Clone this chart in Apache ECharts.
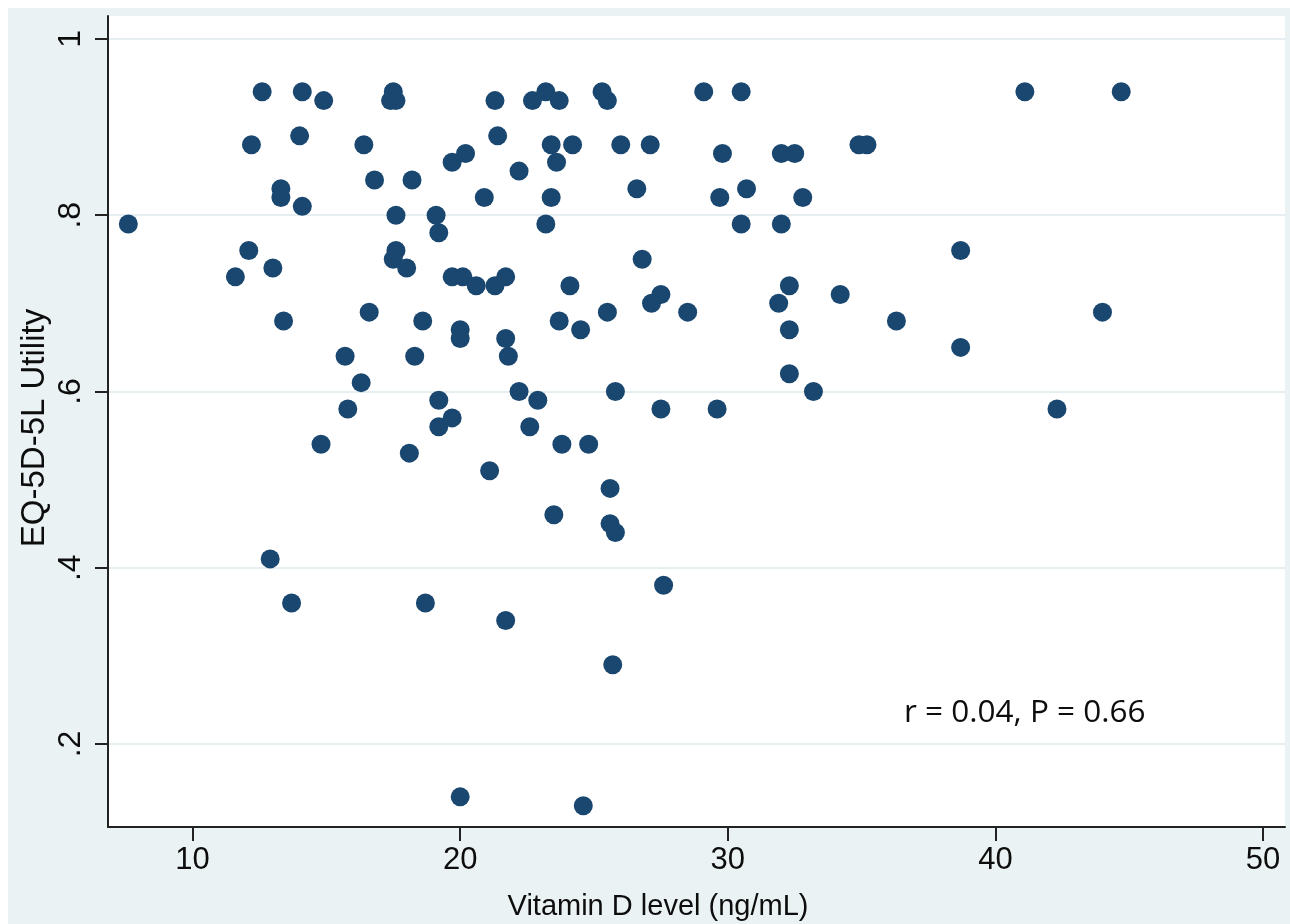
<!DOCTYPE html>
<html>
<head>
<meta charset="utf-8">
<script src="https://cdn.jsdelivr.net/npm/echarts@6/dist/echarts.min.js"></script>
<style>
html,body{margin:0;padding:0;background:#ffffff;}
#bg{position:absolute;left:8px;top:8px;width:1282px;height:916px;background:#eaf2f3;}
#c{position:absolute;left:0;top:0;width:1290px;height:924px;}
</style>
</head>
<body>
<div id="bg"></div>
<div id="c"></div>
<script>
// Vitamin D level (ng/mL) for each participant
const vitaminD = [
  7.6,11.6,12.1,12.2,12.6,12.9,13.0,13.3,13.3,13.4,
  13.7,14.0,14.1,14.1,14.8,14.9,15.7,15.8,16.3,16.4,
  16.6,16.8,17.5,17.4,17.6,17.6,17.6,17.5,18.0,18.1,
  18.2,18.3,18.6,18.7,19.1,19.2,19.2,19.2,19.7,19.7,
  19.7,20.0,20.0,20.0,20.1,20.2,20.6,20.9,21.1,21.3,
  21.3,21.4,21.7,21.7,21.8,21.7,22.2,22.2,22.6,22.7,
  22.9,23.2,23.2,23.4,23.4,23.5,23.6,23.7,23.7,23.8,
  24.1,24.2,24.5,24.6,24.8,25.3,25.5,25.5,25.6,25.6,
  25.8,25.7,25.8,26.0,26.6,26.8,27.1,27.15,27.5,27.5,
  27.6,28.5,29.1,29.6,29.7,29.8,30.5,30.5,30.7,31.9,
  32.0,32.0,32.3,32.3,32.3,32.5,32.8,33.2,34.2,34.9,
  35.2,36.3,38.7,38.7,41.1,42.3,44.0,44.7
];
// EQ-5D-5L utility for each participant (same order)
const utility = [
  0.79,0.73,0.76,0.88,0.94,0.41,0.74,0.83,0.82,0.68,
  0.36,0.89,0.94,0.81,0.54,0.93,0.64,0.58,0.61,0.88,
  0.69,0.84,0.94,0.93,0.93,0.80,0.76,0.75,0.74,0.53,
  0.84,0.64,0.68,0.36,0.80,0.78,0.59,0.56,0.86,0.73,
  0.57,0.67,0.66,0.14,0.73,0.87,0.72,0.82,0.51,0.93,
  0.72,0.89,0.73,0.66,0.64,0.34,0.85,0.60,0.56,0.93,
  0.59,0.94,0.79,0.88,0.82,0.46,0.86,0.93,0.68,0.54,
  0.72,0.88,0.67,0.13,0.54,0.94,0.93,0.69,0.49,0.45,
  0.44,0.29,0.60,0.88,0.83,0.75,0.88,0.70,0.71,0.58,
  0.38,0.69,0.94,0.58,0.82,0.87,0.94,0.79,0.83,0.70,
  0.87,0.79,0.72,0.67,0.62,0.87,0.82,0.60,0.71,0.88,
  0.88,0.68,0.76,0.65,0.94,0.58,0.69,0.94
];
const xTicks = [10, 20, 30, 40, 50];
const xTickLabels = ['10', '20', '30', '40', '50'];
const yTicks = [0.2, 0.4, 0.6, 0.8, 1];
const yTickLabels = ['.2', '.4', '.6', '.8', '1'];
const xTitle = 'Vitamin D level (ng/mL)';
const yTitle = 'EQ-5D-5L Utility';
const annotation = 'r = 0.04, P = 0.66';

const points = vitaminD.map((v, i) => [v, utility[i]]);
function lookup(ticks, labels, v) {
  const i = ticks.findIndex(t => Math.abs(t - v) < 1e-9);
  return i >= 0 ? labels[i] : '';
}

const chart = echarts.init(document.getElementById('c'), null, {renderer: 'canvas'});
chart.setOption({
  backgroundColor: 'transparent',
  animation: false,
  grid: {
    show: true, backgroundColor: '#ffffff', borderWidth: 0,
    left: 108, top: 16, right: 5, bottom: 97
  },
  xAxis: {
    type: 'value', min: 6.84, max: 50.82,
    axisLine: {show: true, onZero: false, lineStyle: {color: '#222222', width: 2}},
    axisTick: {show: true, customValues: xTicks, length: 14, lineStyle: {color: '#222222', width: 2}},
    axisLabel: {
      customValues: xTicks, margin: 18,
      formatter: v => lookup(xTicks, xTickLabels, v),
      fontSize: 31, color: '#0d0d0d', fontFamily: 'Liberation Sans'
    },
    splitLine: {show: false}
  },
  yAxis: {
    type: 'value', min: 0.1058, max: 1.026,
    axisLine: {show: true, onZero: false, lineStyle: {color: '#222222', width: 2}},
    axisTick: {show: true, customValues: yTicks, length: 13, lineStyle: {color: '#222222', width: 2}},
    axisLabel: {
      customValues: yTicks, rotate: 90, margin: 21,
      formatter: v => lookup(yTicks, yTickLabels, v),
      fontSize: 32, color: '#0d0d0d', fontFamily: 'Liberation Sans'
    },
    splitLine: {show: true, lineStyle: {color: '#e6eef1', width: 2}}
  },
  graphic: [
    {type: 'text', silent: true,
     style: {text: annotation, x: 904, y: 713, verticalAlign: 'middle',
             font: '31.5px "Open Sans"', fill: '#0d0d0d'}},
    {type: 'text', silent: true,
     style: {text: xTitle, x: 658, y: 907, align: 'center', verticalAlign: 'middle',
             font: '29px "Liberation Sans"', fill: '#0d0d0d'}},
    {type: 'text', silent: true, x: 35, y: 428, rotation: Math.PI / 2,
     style: {text: yTitle, x: 0, y: 0, align: 'center', verticalAlign: 'middle',
             font: '33px "Liberation Sans"', fill: '#0d0d0d'}}
  ],
  series: [{
    type: 'scatter',
    data: points,
    symbol: 'circle',
    symbolSize: 19,
    itemStyle: {color: '#1a476f', opacity: 1}
  }]
});
</script>
</body>
</html>
